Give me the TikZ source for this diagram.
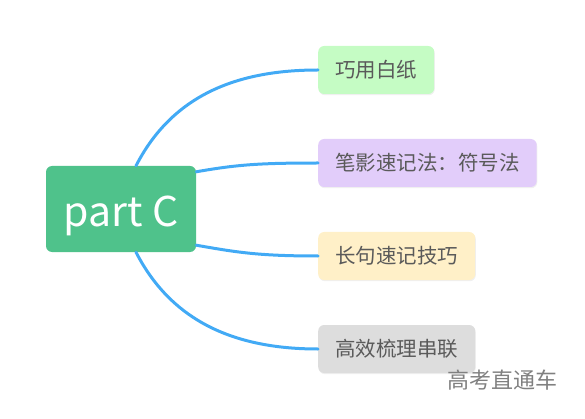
\documentclass[tikz,border=0pt]{standalone}
\usepackage{fontspec}
\setmainfont{Noto Sans CJK SC}
\usetikzlibrary{shadows}
\definecolor{raiz}{RGB}{79,194,139}
\definecolor{rama}{RGB}{66,170,245}
\definecolor{verde}{RGB}{197,252,196}
\definecolor{lila}{RGB}{226,205,250}
\definecolor{crema}{RGB}{255,240,200}
\definecolor{gris}{RGB}{221,221,221}
\definecolor{texto}{RGB}{90,90,90}
\begin{document}
\begin{tikzpicture}[
            x=1pt, y=-1pt,
            tema/.style={
                rectangle,
                rounded corners=6pt,
                fill=raiz,
                text=white,
                minimum width=150pt,
                minimum height=86pt,
                inner sep=0pt,
                text height=40pt,
                text depth=6pt,
                font=\fontsize{41}{46}\selectfont
            },
            sub/.style={
                rectangle,
                rounded corners=6pt,
                anchor=west,
                text=texto,
                minimum height=48pt,
                inner xsep=17pt,
                inner ysep=0pt,
                drop shadow={opacity=0.12, shadow xshift=0.6pt, shadow yshift=-1.2pt},
                font=\fontsize{20.5}{24}\selectfont
            },
            enlace/.style={
                draw=rama,
                line width=3pt,
                line cap=round
            }
        ]

        \useasboundingbox (0,0) rectangle (585,419);

        % Nodos
        \node[tema] (root) at (121,209) {part C};
        \node[sub, fill=verde] (b1) at (318,70)  {巧用白纸};
        \node[sub, fill=lila]  (b2) at (318,163) {笔影速记法：符号法};
        \node[sub, fill=crema] (b3) at (318,256) {长句速记技巧};
        \node[sub, fill=gris]  (b4) at (318,349) {高效梳理串联};

        % Conexiones
        \draw[enlace] ([xshift=15pt]root.north) .. controls +(34,-66) and +(-88,0) .. (b1.west);
        \draw[enlace] ([yshift=-6pt]root.north east) .. controls +(40,-7) and +(-60,0) .. (b2.west);
        \draw[enlace] ([yshift=7pt]root.south east) .. controls +(40,7) and +(-60,0) .. (b3.west);
        \draw[enlace] ([xshift=15pt]root.south) .. controls +(34,66) and +(-88,0) .. (b4.west);

        % Marca de agua
        \node[text=gray, font=\fontsize{22}{25}\selectfont] (marca) at (502,380) {高考直通车};

        \end{tikzpicture}
\end{document}
